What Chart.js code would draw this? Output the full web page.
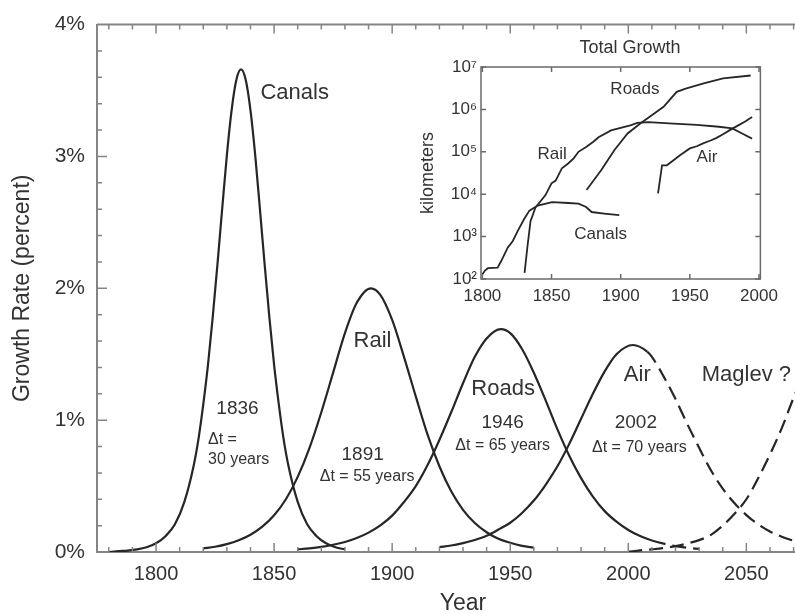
<!DOCTYPE html>
<html>
<head>
<meta charset="utf-8">
<script src="https://cdn.jsdelivr.net/npm/chart.js@4.4.1/dist/chart.umd.min.js"></script>
<style>
  html, body { margin: 0; padding: 0; background: #fff; overflow: hidden; }
  #wrap { position: relative; width: 795px; height: 614px; overflow: hidden; }
  #mainBox { position: absolute; left: 0; top: 0; width: 831px; height: 614px; }
  #insetBox { position: absolute; left: 400px; top: 28px; width: 385px; height: 282px; }
</style>
</head>
<body>
<div id="wrap">
  <div id="mainBox"><canvas id="main" width="831" height="614"></canvas></div>
  <div id="insetBox"><canvas id="inset" width="385" height="282"></canvas></div>
</div>
<script>
// Growth rate curves (percent per year)
const canalsYears = [1780, 1784, 1788, 1792, 1796, 1800, 1804, 1808, 1812, 1816, 1818, 1820, 1822, 1824, 1826, 1828, 1830, 1832, 1834, 1836, 1838, 1840, 1842, 1844, 1846, 1848, 1850, 1852, 1854, 1856, 1860, 1864, 1868, 1872, 1876, 1880];
const canalsRate = [0.00, 0.006, 0.011, 0.02, 0.036, 0.066, 0.12, 0.21, 0.38, 0.66, 0.86, 1.12, 1.42, 1.78, 2.18, 2.60, 3.01, 3.35, 3.58, 3.66, 3.58, 3.35, 3.01, 2.60, 2.18, 1.78, 1.42, 1.12, 0.86, 0.66, 0.38, 0.21, 0.12, 0.066, 0.036, 0.02];

const railYears = [1820, 1825, 1830, 1835, 1840, 1845, 1850, 1855, 1860, 1865, 1870, 1875, 1880, 1885, 1891, 1895, 1900, 1905, 1910, 1915, 1920, 1925, 1930, 1935, 1940, 1945, 1950, 1955, 1960];
const railRate = [0.027, 0.040, 0.060, 0.089, 0.131, 0.192, 0.279, 0.40, 0.57, 0.79, 1.06, 1.36, 1.66, 1.89, 2.00, 1.95, 1.76, 1.48, 1.18, 0.89, 0.65, 0.46, 0.32, 0.22, 0.15, 0.10, 0.070, 0.047, 0.032];

const roadsYears = [1860, 1865, 1870, 1875, 1880, 1885, 1890, 1895, 1900, 1905, 1910, 1915, 1920, 1925, 1930, 1935, 1940, 1946, 1950, 1955, 1960, 1965, 1970, 1975, 1980, 1985, 1990, 1995, 2000, 2005, 2010, 2015, 2020, 2025, 2030];
const roadsRate = [0.020, 0.028, 0.039, 0.055, 0.076, 0.106, 0.147, 0.202, 0.276, 0.379, 0.50, 0.66, 0.85, 1.06, 1.28, 1.48, 1.62, 1.69, 1.66, 1.54, 1.36, 1.15, 0.93, 0.73, 0.56, 0.42, 0.31, 0.23, 0.167, 0.121, 0.087, 0.063, 0.045, 0.032, 0.023];

const airYears = [1920, 1925, 1930, 1935, 1940, 1945, 1950, 1955, 1960, 1965, 1970, 1975, 1980, 1985, 1990, 1995, 2002, 2008, 2010, 2015, 2020, 2025, 2030, 2035, 2040, 2045, 2050, 2055, 2060, 2065, 2070];
const airRate = [0.036, 0.049, 0.067, 0.091, 0.123, 0.170, 0.222, 0.296, 0.39, 0.51, 0.65, 0.82, 1.01, 1.20, 1.37, 1.50, 1.57, 1.52, 1.48, 1.33, 1.16, 0.97, 0.79, 0.62, 0.48, 0.37, 0.28, 0.21, 0.156, 0.116, 0.085];

const maglevYears = [2000, 2005, 2010, 2015, 2020, 2025, 2030, 2035, 2040, 2045, 2050, 2055, 2060, 2065, 2070, 2075, 2080, 2085];
const maglevRate = [0.0, 0.012, 0.02, 0.03, 0.045, 0.065, 0.09, 0.13, 0.20, 0.29, 0.40, 0.56, 0.74, 0.94, 1.17, 1.38, 1.55, 1.64];

const xTickValues = [1800, 1850, 1900, 1950, 2000, 2050];
const yTickValues = [0, 1, 2, 3, 4];

// Inset: total length (km), log scale
const insetCanalsYears = [1800, 1802, 1804, 1811, 1813.6, 1818.3, 1822, 1825.5, 1830.2, 1834, 1840, 1850.4, 1862, 1869.5, 1875, 1879, 1888, 1899];
const insetCanalsKm = [130, 160, 180, 185, 265, 550, 790, 1350, 2600, 4100, 5400, 6500, 6200, 6000, 5000, 3800, 3500, 3200];

const insetRailYears = [1830.5, 1832.5, 1834.8, 1838.4, 1845.5, 1850, 1853, 1857.5, 1862, 1866, 1869.5, 1875, 1880, 1884, 1893, 1907, 1912, 1920, 1935, 1955, 1971, 1980.7, 1987.8, 1995];
const insetRailKm = [140, 550, 2300, 4900, 9400, 18000, 21000, 41000, 53000, 70000, 100000, 130000, 170000, 220000, 320000, 420000, 480000, 500000, 470000, 430000, 390000, 355000, 270000, 205000];

const insetRoadsYears = [1875.3, 1886, 1895.5, 1905, 1914.4, 1924, 1931, 1940.5, 1947, 1960, 1974, 1994];
const insetRoadsKm = [12600, 37000, 110000, 270000, 470000, 790000, 1150000, 2600000, 3100000, 4100000, 5400000, 6300000];

const insetAirYears = [1927, 1929.9, 1933.4, 1938.2, 1942.9, 1950, 1955, 1960, 1965, 1969, 1974, 1978.6, 1985, 1990, 1995];
const insetAirKm = [10500, 48000, 48000, 63000, 83000, 120000, 135000, 160000, 185000, 210000, 260000, 320000, 420000, 520000, 660000];

const insetXTicks = [1800, 1850, 1900, 1950, 2000];
const insetYTicks = [1e2, 1e3, 1e4, 1e5, 1e6, 1e7];
const insetYLabels = ['10²', '10³', '10⁴', '10⁵', '10⁶', '10⁷'];

const fontFamily = "'Liberation Sans', Arial, Helvetica, sans-serif";
Chart.defaults.font.family = fontFamily;
Chart.defaults.color = '#333';

const lineColor = '#262626';
const axisColor = '#858585';
const dash = [14, 7];

function pts(xs, ys) {
    return xs.map((x, i) => ({ x: x, y: ys[i] }));
}

function curve(xs, ys, dashFrom) {
    const ds = {
        data: pts(xs, ys),
        borderColor: lineColor,
        borderWidth: 2.2,
        pointRadius: 0,
        fill: false,
        cubicInterpolationMode: 'monotone'
    };
    if (dashFrom !== undefined) {
        ds.segment = { borderDash: ctx => ctx.p0.parsed.x >= dashFrom ? dash : undefined };
    }
    return ds;
}

// text labels placed in data coordinates
const mainNotes = [
    { t: 'Canals', x: 1858.7, y: 3.48, size: 22 },
    { t: '1836', x: 1834.5, y: 1.09, size: 19 },
    { t: 'Δt =', x: 1822, y: 0.85, size: 16, align: 'left' },
    { t: '30 years', x: 1822, y: 0.70, size: 16, align: 'left' },
    { t: 'Rail', x: 1891.7, y: 1.60, size: 22 },
    { t: '1891', x: 1887.5, y: 0.74, size: 19 },
    { t: 'Δt = 55 years', x: 1889.4, y: 0.57, size: 16 },
    { t: 'Roads', x: 1947, y: 1.24, size: 22 },
    { t: '1946', x: 1946.8, y: 0.98, size: 19 },
    { t: 'Δt = 65 years', x: 1946.8, y: 0.81, size: 16 },
    { t: 'Air', x: 2003.8, y: 1.34, size: 22 },
    { t: '2002', x: 2003.2, y: 0.98, size: 19 },
    { t: 'Δt = 70 years', x: 2004.7, y: 0.79, size: 16 },
    { t: 'Maglev ?', x: 2050, y: 1.34, size: 22 }
];

const insetNotes = [
    { t: 'Roads', x: 1910.3, y: 3.0e6, size: 17 },
    { t: 'Rail', x: 1850.4, y: 8.7e4, size: 17 },
    { t: 'Air', x: 1962.4, y: 7.4e4, size: 17 },
    { t: 'Canals', x: 1885.5, y: 1160, size: 17 }
];

function drawNotes(chart, notes) {
    const { ctx, scales: { x, y } } = chart;
    ctx.save();
    ctx.fillStyle = '#333';
    ctx.textBaseline = 'middle';
    notes.forEach(n => {
        ctx.font = n.size + 'px ' + fontFamily;
        ctx.textAlign = n.align || 'center';
        ctx.fillText(n.t, x.getPixelForValue(n.x), y.getPixelForValue(n.y));
    });
    ctx.restore();
}

const mainFrame = {
    id: 'mainFrame',
    afterDraw(chart) {
        const { ctx, chartArea: a, scales: { x, y } } = chart;
        ctx.save();
        ctx.strokeStyle = axisColor;
        ctx.lineWidth = 2;
        ctx.beginPath();
        ctx.moveTo(a.left, a.top);
        ctx.lineTo(a.right, a.top);
        ctx.lineTo(a.right, a.bottom);
        ctx.stroke();
        // inward ticks
        ctx.lineWidth = 1.5;
        ctx.beginPath();
        for (let yr = 1780; yr <= 2080; yr += 10) {
            const px = x.getPixelForValue(yr);
            const len = yr % 50 === 0 ? 9 : 5;
            ctx.moveTo(px, a.bottom);
            ctx.lineTo(px, a.bottom - len);
            ctx.moveTo(px, a.top);
            ctx.lineTo(px, a.top + len);
        }
        for (let i = 1; i < 20; i++) {
            const py = y.getPixelForValue(i / 5);
            const len = i % 5 === 0 ? 10 : 5;
            ctx.moveTo(a.left, py);
            ctx.lineTo(a.left + len, py);
        }
        ctx.stroke();
        ctx.restore();
        drawNotes(chart, mainNotes);
    }
};

new Chart(document.getElementById('main'), {
    type: 'line',
    data: {
        datasets: [
            curve(canalsYears, canalsRate),
            curve(railYears, railRate),
            curve(roadsYears, roadsRate, 2010),
            curve(airYears, airRate, 2008),
            Object.assign(curve(maglevYears, maglevRate), { borderDash: dash })
        ]
    },
    options: {
        responsive: false,
        animation: false,
        layout: { padding: { top: 23, right: 2, left: 0, bottom: 0 } },
        plugins: { legend: { display: false }, tooltip: { enabled: false } },
        scales: {
            x: {
                type: 'linear',
                min: 1775,
                max: 2085,
                afterBuildTicks: s => { s.ticks = xTickValues.map(v => ({ value: v })); },
                afterFit: s => { s.height = 62; },
                grid: { display: false, drawTicks: false },
                border: { display: true, color: axisColor, width: 2 },
                ticks: { font: { size: 20 }, color: '#333', padding: 10, maxRotation: 0, callback: v => String(v) },
                title: { display: true, text: 'Year', font: { size: 23 }, color: '#333', padding: { top: 0, bottom: -3 } }
            },
            y: {
                min: 0,
                max: 4,
                afterBuildTicks: s => { s.ticks = yTickValues.map(v => ({ value: v })); },
                afterFit: s => { s.width = 97; },
                grid: { display: false, drawTicks: false },
                border: { display: true, color: axisColor, width: 2 },
                ticks: { font: { size: 21 }, color: '#333', padding: 12, callback: v => v + '%' },
                title: { display: true, text: 'Growth Rate (percent)', font: { size: 23 }, color: '#333', padding: { top: 9, bottom: 0 } }
            }
        }
    },
    plugins: [mainFrame]
});

const insetFrame = {
    id: 'insetFrame',
    afterDraw(chart) {
        const { ctx, chartArea: a, scales: { x, y } } = chart;
        ctx.save();
        ctx.strokeStyle = '#6a6a6a';
        ctx.lineWidth = 1.5;
        ctx.strokeRect(a.left, a.top, a.right - a.left, a.bottom - a.top);
        ctx.beginPath();
        insetXTicks.forEach(v => {
            const px = x.getPixelForValue(v);
            ctx.moveTo(px, a.bottom);
            ctx.lineTo(px, a.bottom - 5);
            ctx.moveTo(px, a.top);
            ctx.lineTo(px, a.top + 5);
        });
        insetYTicks.forEach(v => {
            const py = y.getPixelForValue(v);
            ctx.moveTo(a.left, py);
            ctx.lineTo(a.left + 5, py);
            ctx.moveTo(a.right, py);
            ctx.lineTo(a.right - 5, py);
        });
        ctx.stroke();
        ctx.fillStyle = '#333';
        ctx.font = '18px ' + fontFamily;
        ctx.textAlign = 'center';
        ctx.textBaseline = 'middle';
        ctx.fillText('Total Growth', 230, 20);
        ctx.restore();
        drawNotes(chart, insetNotes);
    }
};

function insetLine(xs, ys) {
    return {
        data: pts(xs, ys),
        borderColor: lineColor,
        borderWidth: 1.8,
        pointRadius: 0,
        fill: false,
        tension: 0
    };
}

new Chart(document.getElementById('inset'), {
    type: 'line',
    data: {
        datasets: [
            insetLine(insetCanalsYears, insetCanalsKm),
            insetLine(insetRailYears, insetRailKm),
            insetLine(insetRoadsYears, insetRoadsKm),
            insetLine(insetAirYears, insetAirKm)
        ]
    },
    options: {
        responsive: false,
        animation: false,
        layout: { padding: { top: 39, right: 20, left: 0, bottom: 0 } },
        plugins: { legend: { display: false }, tooltip: { enabled: false } },
        scales: {
            x: {
                type: 'linear',
                min: 1799,
                max: 2001,
                afterBuildTicks: s => { s.ticks = insetXTicks.map(v => ({ value: v })); },
                afterFit: s => { s.height = 31; },
                grid: { display: false, drawTicks: false },
                border: { display: false },
                ticks: { font: { size: 17 }, color: '#333', padding: 7, maxRotation: 0, callback: v => String(v) }
            },
            y: {
                type: 'logarithmic',
                min: 100,
                max: 1e7,
                afterBuildTicks: s => { s.ticks = insetYTicks.map(v => ({ value: v })); },
                afterFit: s => { s.width = 81; },
                grid: { display: false, drawTicks: false },
                border: { display: false },
                ticks: {
                    font: { size: 17 },
                    color: '#333',
                    padding: 4,
                    callback: v => {
                        const i = insetYTicks.indexOf(v);
                        return i >= 0 ? insetYLabels[i] : '';
                    }
                },
                title: { display: true, text: 'kilometers', font: { size: 18 }, color: '#333', padding: { top: 17, bottom: 0 } }
            }
        }
    },
    plugins: [insetFrame]
});
</script>
</body>
</html>
